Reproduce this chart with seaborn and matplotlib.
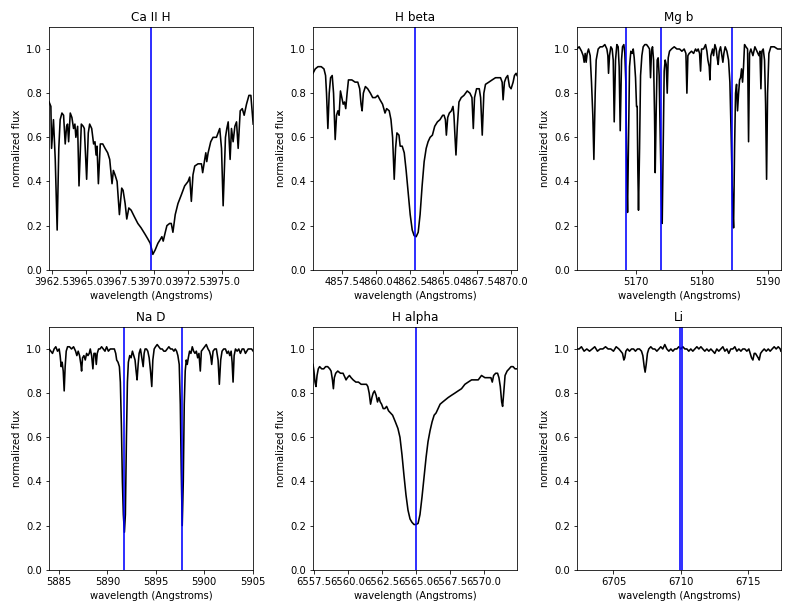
import matplotlib
matplotlib.use("Agg")
import matplotlib.pyplot as plt
import seaborn as sns
from matplotlib.ticker import MultipleLocator, ScalarFormatter

titles = ["Ca II H", "H beta", "Mg b", "Na D", "H alpha", "Li"]

ca_wave = [3962.30, 3962.43, 3962.48, 3962.62, 3962.75, 3962.89, 3963.01, 3963.11, 3963.24, 3963.36,
           3963.48, 3963.58, 3963.65, 3963.73, 3963.85, 3963.97, 3964.09, 3964.19, 3964.26, 3964.39,
           3964.49, 3964.66, 3964.80, 3964.88, 3965.05, 3965.17, 3965.27, 3965.42, 3965.56, 3965.66,
           3965.74, 3965.81, 3965.91, 3966.05, 3966.23, 3966.40, 3966.59, 3966.74, 3966.91, 3967.01,
           3967.13, 3967.28, 3967.45, 3967.62, 3967.72, 3967.87, 3967.99, 3968.14, 3968.31, 3968.55,
           3968.80, 3969.04, 3969.34, 3969.53, 3969.71, 3969.90, 3970.07, 3970.27, 3970.47, 3970.56,
           3970.66, 3970.81, 3970.93, 3971.13, 3971.25, 3971.37, 3971.54, 3971.74, 3971.99, 3972.23,
           3972.48, 3972.60, 3972.72, 3972.84, 3972.97, 3973.21, 3973.46, 3973.55, 3973.70, 3973.78,
           3973.85, 3973.95, 3974.14, 3974.31, 3974.56, 3974.68, 3974.80, 3974.93, 3975.05, 3975.22,
           3975.32, 3975.42, 3975.56, 3975.66, 3975.78, 3975.91, 3976.03, 3976.15, 3976.30, 3976.45,
           3976.59, 3976.76, 3976.94, 3977.08, 3977.25]
ca_flux = [0.76, 0.74, 0.55, 0.68, 0.50, 0.18, 0.55, 0.68, 0.71, 0.70,
           0.57, 0.65, 0.66, 0.58, 0.71, 0.69, 0.64, 0.66, 0.60, 0.65,
           0.38, 0.66, 0.65, 0.64, 0.41, 0.62, 0.66, 0.64, 0.57, 0.58,
           0.52, 0.56, 0.39, 0.57, 0.57, 0.55, 0.53, 0.50, 0.39, 0.45,
           0.43, 0.40, 0.25, 0.37, 0.36, 0.30, 0.23, 0.28, 0.27, 0.24,
           0.21, 0.19, 0.16, 0.14, 0.12, 0.07, 0.09, 0.12, 0.14, 0.15,
           0.13, 0.17, 0.20, 0.21, 0.21, 0.17, 0.25, 0.30, 0.34, 0.38,
           0.40, 0.42, 0.31, 0.43, 0.47, 0.48, 0.48, 0.44, 0.50, 0.53,
           0.49, 0.53, 0.58, 0.60, 0.60, 0.62, 0.64, 0.55, 0.29, 0.60,
           0.64, 0.67, 0.50, 0.64, 0.58, 0.65, 0.67, 0.55, 0.72, 0.73,
           0.70, 0.75, 0.79, 0.79, 0.66]

hb_wave = [4855.37, 4855.54, 4855.74, 4855.98, 4856.18, 4856.30, 4856.37, 4856.47, 4856.57, 4856.67,
           4856.79, 4856.89, 4857.01, 4857.11, 4857.21, 4857.30, 4857.40, 4857.50, 4857.60, 4857.70,
           4857.79, 4857.89, 4857.99, 4858.24, 4858.48, 4858.68, 4858.82, 4858.92, 4859.00, 4859.09,
           4859.24, 4859.41, 4859.61, 4859.78, 4859.98, 4860.15, 4860.32, 4860.51, 4860.69, 4860.81,
           4861.00, 4861.13, 4861.25, 4861.37, 4861.47, 4861.57, 4861.72, 4861.81, 4861.96, 4862.11,
           4862.25, 4862.40, 4862.55, 4862.70, 4862.84, 4862.99, 4863.14, 4863.28, 4863.43, 4863.58,
           4863.73, 4863.87, 4864.02, 4864.19, 4864.36, 4864.56, 4864.75, 4864.95, 4865.05, 4865.15,
           4865.22, 4865.32, 4865.44, 4865.59, 4865.71, 4865.78, 4865.86, 4865.93, 4866.03, 4866.15,
           4866.32, 4866.52, 4866.76, 4866.96, 4867.11, 4867.21, 4867.30, 4867.45, 4867.65, 4867.75,
           4867.87, 4867.99, 4868.11, 4868.36, 4868.60, 4868.85, 4869.22, 4869.34, 4869.41, 4869.51,
           4869.63, 4869.75, 4869.88, 4870.00, 4870.15, 4870.25, 4870.37, 4870.44]
hb_flux = [0.89, 0.91, 0.92, 0.92, 0.91, 0.88, 0.80, 0.64, 0.80, 0.87,
           0.88, 0.80, 0.59, 0.70, 0.72, 0.70, 0.81, 0.78, 0.75, 0.76,
           0.73, 0.80, 0.86, 0.86, 0.85, 0.85, 0.82, 0.75, 0.72, 0.80,
           0.83, 0.82, 0.80, 0.78, 0.78, 0.79, 0.77, 0.75, 0.71, 0.73,
           0.72, 0.68, 0.60, 0.41, 0.55, 0.62, 0.61, 0.56, 0.56, 0.53,
           0.45, 0.35, 0.25, 0.18, 0.155, 0.15, 0.17, 0.25, 0.38, 0.49,
           0.55, 0.58, 0.60, 0.61, 0.65, 0.67, 0.68, 0.70, 0.70, 0.68,
           0.61, 0.69, 0.71, 0.72, 0.74, 0.70, 0.60, 0.52, 0.65, 0.76,
           0.78, 0.79, 0.81, 0.80, 0.78, 0.64, 0.78, 0.82, 0.82, 0.78,
           0.61, 0.80, 0.84, 0.85, 0.86, 0.87, 0.87, 0.85, 0.77, 0.85,
           0.87, 0.88, 0.83, 0.82, 0.85, 0.88, 0.89, 0.88]

mg_wave = [5161.01, 5161.36, 5161.72, 5161.97, 5162.12, 5162.27, 5162.42, 5162.58, 5162.78, 5163.03,
           5163.23, 5163.43, 5163.59, 5163.79, 5163.94, 5164.24, 5164.55, 5164.90, 5165.25, 5165.56,
           5165.71, 5165.81, 5165.96, 5166.16, 5166.36, 5166.52, 5166.67, 5166.87, 5167.07, 5167.27,
           5167.42, 5167.58, 5167.78, 5167.93, 5168.13, 5168.28, 5168.43, 5168.59, 5168.69, 5168.84,
           5168.99, 5169.19, 5169.39, 5169.55, 5169.70, 5169.90, 5170.05, 5170.15, 5170.25, 5170.35,
           5170.51, 5170.66, 5170.86, 5171.06, 5171.31, 5171.57, 5171.82, 5172.02, 5172.17, 5172.32,
           5172.47, 5172.63, 5172.78, 5172.88, 5173.03, 5173.18, 5173.33, 5173.48, 5173.64, 5173.84,
           5173.94, 5174.09, 5174.24, 5174.39, 5174.55, 5174.70, 5174.85, 5175.05, 5175.35, 5175.76,
           5176.16, 5176.57, 5176.92, 5177.27, 5177.53, 5177.68, 5177.83, 5178.03, 5178.38, 5178.69,
           5178.99, 5179.19, 5179.39, 5179.60, 5179.75, 5179.90, 5180.20, 5180.51, 5180.71, 5180.86,
           5181.06, 5181.16, 5181.31, 5181.57, 5181.72, 5181.92, 5182.12, 5182.27, 5182.42, 5182.58,
           5182.78, 5182.98, 5183.13, 5183.28, 5183.48, 5183.74, 5183.99, 5184.19, 5184.39, 5184.60,
           5184.75, 5184.90, 5185.05, 5185.20, 5185.35, 5185.51, 5185.66, 5185.81, 5185.96, 5186.11,
           5186.26, 5186.41, 5186.62, 5186.87, 5187.02, 5187.17, 5187.37, 5187.68, 5187.98, 5188.28,
           5188.59, 5188.74, 5188.89, 5189.04, 5189.24, 5189.44, 5189.60, 5189.75, 5189.90, 5190.10,
           5190.40, 5190.91, 5191.41, 5191.92]
mg_flux = [1.00, 1.01, 0.99, 0.97, 0.94, 0.98, 0.94, 0.98, 1.00, 0.97,
           0.85, 0.70, 0.50, 0.80, 0.95, 1.00, 1.01, 1.01, 1.02, 1.00,
           0.97, 0.89, 0.97, 1.01, 1.00, 0.95, 0.67, 0.95, 1.02, 1.01,
           0.92, 0.63, 0.95, 1.01, 1.02, 0.98, 0.85, 0.40, 0.26, 0.60,
           0.92, 0.99, 0.98, 1.00, 0.96, 0.87, 0.74, 0.74, 0.45, 0.27,
           0.55, 0.88, 0.97, 1.01, 1.02, 1.02, 1.01, 1.00, 0.87, 0.99,
           1.01, 0.95, 0.70, 0.44, 0.72, 0.95, 0.96, 0.88, 0.60, 0.30,
           0.21, 0.55, 0.90, 0.95, 0.93, 0.80, 0.96, 0.99, 1.00, 1.01,
           1.00, 1.00, 0.99, 1.00, 0.98, 0.80, 0.97, 0.98, 0.99, 0.98,
           1.00, 0.99, 1.00, 0.98, 0.90, 1.00, 1.00, 1.02, 0.99, 0.95,
           0.92, 0.86, 0.97, 1.00, 0.97, 1.02, 1.00, 0.96, 0.93, 0.99,
           1.01, 0.97, 0.94, 0.98, 1.01, 0.99, 0.95, 0.85, 0.60, 0.30,
           0.19, 0.55, 0.80, 0.84, 0.72, 0.80, 0.86, 0.87, 0.91, 0.85,
           0.92, 1.02, 1.01, 1.00, 0.58, 0.98, 1.00, 0.97, 1.01, 0.99,
           0.97, 0.99, 0.82, 0.99, 1.00, 0.95, 0.75, 0.41, 0.80, 0.98,
           1.01, 1.01, 1.00, 1.00]

na_wave = [5883.96, 5884.13, 5884.31, 5884.48, 5884.65, 5884.83, 5885.00, 5885.10, 5885.21, 5885.31,
           5885.42, 5885.52, 5885.62, 5885.73, 5885.87, 5886.07, 5886.28, 5886.49, 5886.70, 5886.83,
           5886.97, 5887.11, 5887.25, 5887.32, 5887.42, 5887.56, 5887.70, 5887.84, 5887.98, 5888.11,
           5888.22, 5888.36, 5888.49, 5888.60, 5888.74, 5888.84, 5888.94, 5889.08, 5889.22, 5889.39,
           5889.57, 5889.74, 5889.91, 5890.09, 5890.29, 5890.50, 5890.71, 5890.85, 5890.95, 5891.09,
           5891.23, 5891.33, 5891.44, 5891.54, 5891.64, 5891.75, 5891.85, 5891.96, 5892.06, 5892.16,
           5892.30, 5892.44, 5892.58, 5892.72, 5892.85, 5892.96, 5893.06, 5893.17, 5893.27, 5893.41,
           5893.55, 5893.69, 5893.79, 5893.89, 5894.03, 5894.17, 5894.31, 5894.45, 5894.58, 5894.69,
           5894.83, 5894.97, 5895.14, 5895.31, 5895.48, 5895.66, 5895.83, 5896.00, 5896.18, 5896.35,
           5896.52, 5896.70, 5896.87, 5897.01, 5897.15, 5897.28, 5897.42, 5897.53, 5897.63, 5897.73,
           5897.84, 5897.94, 5898.04, 5898.15, 5898.25, 5898.36, 5898.49, 5898.63, 5898.77, 5898.91,
           5899.05, 5899.19, 5899.33, 5899.46, 5899.60, 5899.71, 5899.88, 5900.05, 5900.22, 5900.40,
           5900.54, 5900.67, 5900.78, 5900.92, 5901.09, 5901.26, 5901.44, 5901.57, 5901.71, 5901.85,
           5902.02, 5902.20, 5902.37, 5902.51, 5902.65, 5902.79, 5902.89, 5902.99, 5903.10, 5903.24,
           5903.41, 5903.58, 5903.75, 5903.93, 5904.10, 5904.27, 5904.41, 5904.55, 5904.72, 5904.90,
           5905.07]
na_flux = [1.00, 0.99, 0.98, 1.00, 1.01, 0.99, 1.00, 0.97, 0.92, 0.94,
           0.90, 0.81, 0.92, 0.99, 1.01, 1.01, 1.00, 1.01, 0.99, 0.97,
           0.99, 0.97, 0.93, 0.90, 0.96, 0.97, 0.95, 0.98, 0.97, 0.98,
           1.00, 0.97, 0.91, 0.98, 0.98, 0.93, 0.98, 1.00, 1.00, 1.01,
           1.00, 0.99, 1.01, 0.99, 1.00, 1.00, 1.00, 0.98, 0.95, 0.94,
           0.92, 0.85, 0.65, 0.40, 0.25, 0.17, 0.25, 0.60, 0.85, 0.94,
           0.97, 0.96, 0.99, 0.97, 0.95, 0.90, 0.86, 0.93, 0.98, 1.00,
           0.96, 0.92, 0.98, 1.00, 1.00, 0.99, 0.96, 0.90, 0.83, 0.95,
           1.00, 1.01, 1.02, 1.01, 1.00, 1.00, 0.99, 0.99, 1.00, 1.01,
           1.00, 1.00, 0.99, 1.00, 0.99, 0.97, 0.93, 0.75, 0.45, 0.20,
           0.40, 0.75, 0.90, 0.95, 0.93, 0.96, 0.99, 0.98, 1.01, 0.99,
           0.98, 0.99, 0.96, 0.98, 0.90, 0.99, 1.00, 1.01, 1.02, 1.00,
           0.99, 0.97, 0.93, 0.99, 1.00, 1.00, 0.95, 0.84, 0.95, 0.99,
           1.00, 1.00, 0.98, 0.99, 0.97, 0.99, 0.94, 0.85, 0.97, 1.00,
           0.99, 1.00, 0.98, 1.00, 1.00, 0.98, 0.99, 1.00, 1.00, 1.00,
           0.99]

ha_wave = [6557.45, 6557.52, 6557.60, 6557.67, 6557.75, 6557.84, 6557.94, 6558.09, 6558.24, 6558.38,
           6558.53, 6558.68, 6558.78, 6558.88, 6558.95, 6559.02, 6559.12, 6559.27, 6559.47, 6559.66,
           6559.81, 6559.88, 6559.98, 6560.13, 6560.25, 6560.40, 6560.60, 6560.79, 6560.99, 6561.19,
           6561.38, 6561.48, 6561.58, 6561.68, 6561.78, 6561.87, 6561.97, 6562.09, 6562.19, 6562.29,
           6562.39, 6562.49, 6562.61, 6562.73, 6562.86, 6563.00, 6563.15, 6563.30, 6563.50, 6563.69,
           6563.84, 6563.99, 6564.13, 6564.28, 6564.43, 6564.58, 6564.72, 6564.87, 6565.02, 6565.17,
           6565.31, 6565.46, 6565.61, 6565.76, 6565.90, 6566.05, 6566.20, 6566.35, 6566.49, 6566.64,
           6566.79, 6566.98, 6567.18, 6567.38, 6567.62, 6567.87, 6568.11, 6568.36, 6568.61, 6568.85,
           6569.10, 6569.34, 6569.59, 6569.83, 6570.08, 6570.33, 6570.52, 6570.62, 6570.72, 6570.87,
           6571.01, 6571.11, 6571.21, 6571.31, 6571.38, 6571.46, 6571.56, 6571.71, 6571.86, 6572.00,
           6572.15, 6572.29, 6572.44]
ha_flux = [0.93, 0.90, 0.85, 0.83, 0.88, 0.91, 0.92, 0.91, 0.91, 0.92,
           0.92, 0.91, 0.90, 0.86, 0.82, 0.87, 0.89, 0.90, 0.89, 0.89,
           0.87, 0.86, 0.87, 0.88, 0.87, 0.86, 0.85, 0.85, 0.84, 0.84,
           0.84, 0.83, 0.80, 0.75, 0.78, 0.80, 0.81, 0.79, 0.76, 0.78,
           0.76, 0.75, 0.73, 0.73, 0.74, 0.72, 0.71, 0.70, 0.67, 0.64,
           0.60, 0.52, 0.43, 0.34, 0.27, 0.23, 0.215, 0.205, 0.205, 0.21,
           0.25, 0.33, 0.42, 0.51, 0.58, 0.63, 0.67, 0.70, 0.71, 0.73,
           0.75, 0.76, 0.77, 0.78, 0.79, 0.80, 0.81, 0.82, 0.84, 0.85,
           0.86, 0.86, 0.86, 0.88, 0.87, 0.87, 0.87, 0.85, 0.88, 0.89,
           0.89, 0.87, 0.83, 0.76, 0.74, 0.80, 0.88, 0.90, 0.91, 0.92,
           0.92, 0.91, 0.91]

li_wave = [6702.28, 6702.45, 6702.62, 6702.82, 6703.02, 6703.22, 6703.42, 6703.61, 6703.81, 6704.01,
           6704.21, 6704.41, 6704.60, 6704.80, 6705.00, 6705.20, 6705.40, 6705.54, 6705.67, 6705.77,
           6705.84, 6705.92, 6706.04, 6706.19, 6706.34, 6706.49, 6706.63, 6706.78, 6706.93, 6707.08,
           6707.18, 6707.28, 6707.35, 6707.43, 6707.52, 6707.62, 6707.77, 6707.92, 6708.07, 6708.22,
           6708.37, 6708.51, 6708.66, 6708.81, 6708.96, 6709.11, 6709.26, 6709.41, 6709.55, 6709.70,
           6709.85, 6710.00, 6710.15, 6710.30, 6710.45, 6710.59, 6710.74, 6710.89, 6711.04, 6711.19,
           6711.34, 6711.49, 6711.63, 6711.78, 6711.93, 6712.08, 6712.23, 6712.38, 6712.52, 6712.67,
           6712.82, 6712.97, 6713.12, 6713.27, 6713.42, 6713.56, 6713.71, 6713.86, 6714.01, 6714.16,
           6714.31, 6714.46, 6714.60, 6714.75, 6714.90, 6715.05, 6715.15, 6715.25, 6715.35, 6715.45,
           6715.54, 6715.64, 6715.74, 6715.82, 6715.92, 6716.04, 6716.19, 6716.34, 6716.49, 6716.63,
           6716.78, 6716.93, 6717.08, 6717.23, 6717.38, 6717.43]
li_flux = [1.00, 1.00, 1.01, 0.99, 1.00, 0.99, 1.00, 1.01, 0.99, 1.00,
           1.00, 1.01, 1.00, 1.00, 0.99, 1.01, 1.00, 0.99, 0.98, 0.95,
           0.96, 0.99, 1.00, 0.99, 1.00, 1.00, 0.99, 1.00, 1.00, 0.99,
           0.97, 0.92, 0.895, 0.93, 0.98, 1.00, 1.01, 1.00, 1.00, 0.99,
           1.00, 1.01, 1.00, 1.02, 1.00, 0.99, 1.00, 0.99, 1.00, 1.00,
           1.01, 1.00, 1.01, 1.00, 1.00, 0.99, 1.00, 0.99, 1.00, 1.01,
           1.00, 1.01, 1.00, 0.99, 1.00, 0.99, 1.00, 0.99, 0.98, 1.00,
           0.99, 1.00, 1.01, 0.99, 1.00, 0.98, 1.00, 1.00, 1.01, 0.99,
           1.00, 0.99, 1.00, 1.00, 0.99, 1.00, 0.98, 0.96, 0.95, 0.98,
           0.98, 0.97, 0.96, 0.95, 0.98, 0.99, 1.00, 0.99, 1.00, 0.99,
           1.00, 1.01, 1.00, 1.01, 1.00, 0.99]

ca_lines = [3969.78]
hb_lines = [4862.90]
mg_lines = [5168.50, 5173.83, 5184.55]
na_lines = [5891.72, 5897.75]
ha_lines = [6564.99]
li_lines = [6709.95, 6710.10]

tick_steps = [2.5, 2.5, 10, 5, 2.5, 5]

waves = [ca_wave, hb_wave, mg_wave, na_wave, ha_wave, li_wave]
fluxes = [ca_flux, hb_flux, mg_flux, na_flux, ha_flux, li_flux]
lines_all = [ca_lines, hb_lines, mg_lines, na_lines, ha_lines, li_lines]

plt.rcParams['font.family'] = ['DejaVu Sans']
fig, axes = plt.subplots(2, 3, figsize=(11, 8.5), dpi=72)
fig.patch.set_facecolor('white')

for ax, title, w, f, lines, step in zip(axes.flat, titles, waves, fluxes, lines_all, tick_steps):
    sns.lineplot(x=w, y=f, ax=ax, color='black', linewidth=1.6, sort=False, estimator=None)
    for lw_ in lines:
        ax.axvline(lw_, color='b', alpha=0.8, linewidth=2.0)
    ax.set_xlim(min(w), max(w))
    ax.set_ylim(0, 1.1)
    ax.xaxis.set_major_locator(MultipleLocator(step))
    ax.xaxis.set_major_formatter(ScalarFormatter(useOffset=False))
    ax.set_title(title)
    ax.set_xlabel('wavelength (Angstroms)')
    ax.set_ylabel('normalized flux')

fig.subplots_adjust(left=0.062, right=0.986, top=0.956, bottom=0.069, wspace=0.293, hspace=0.235)
fig.savefig('out.png', dpi=72, facecolor='white')
